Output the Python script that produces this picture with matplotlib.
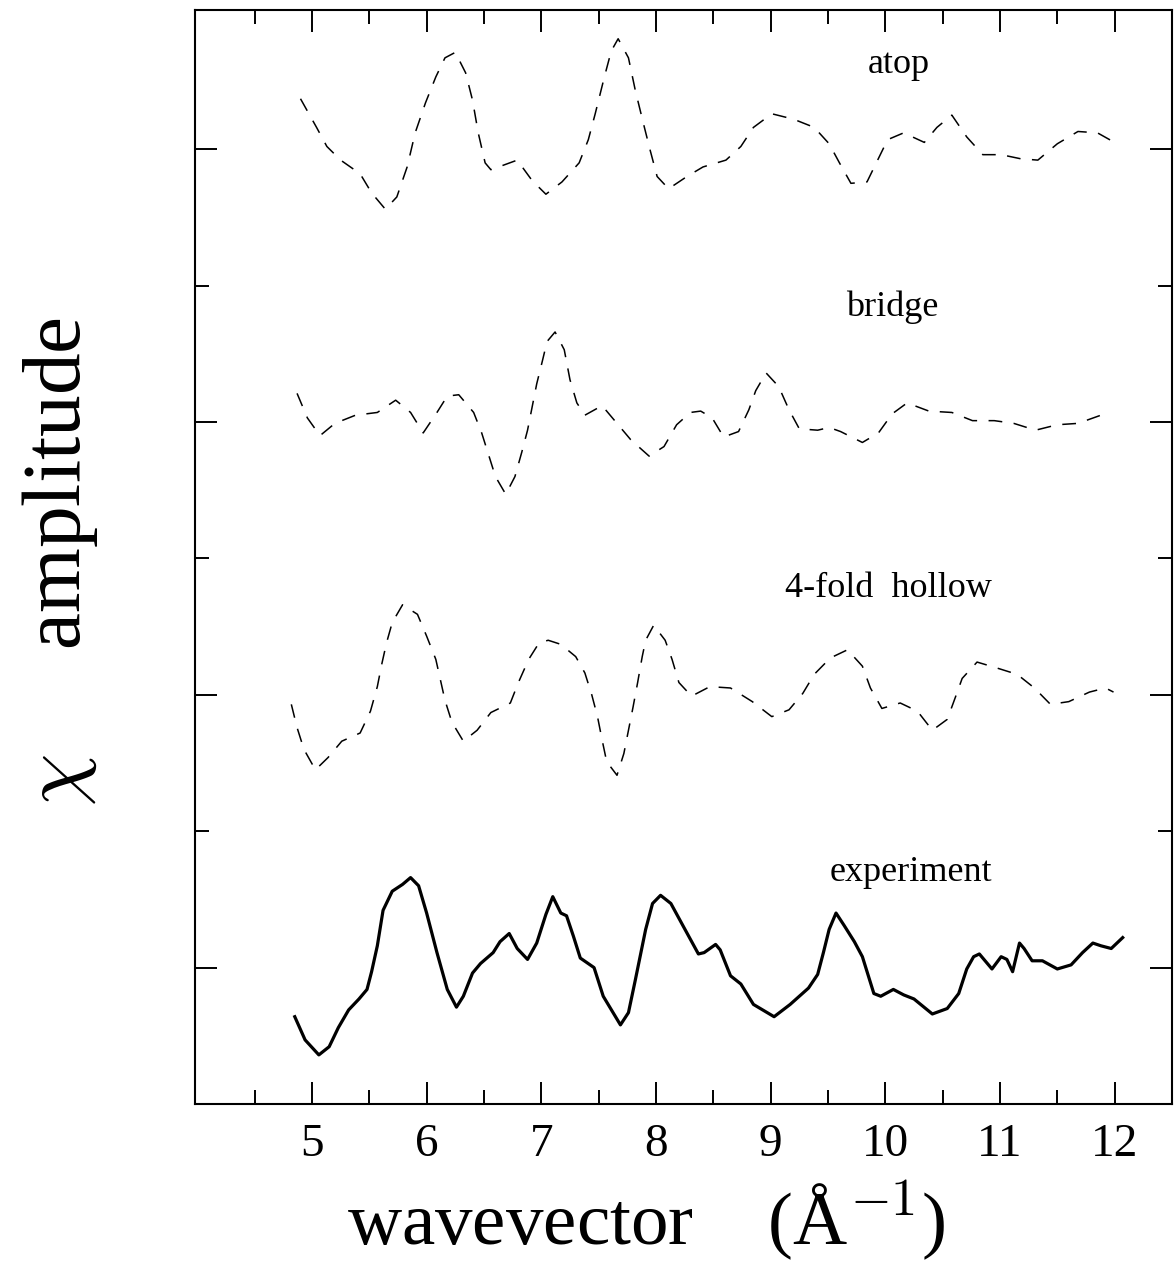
import numpy as np
import matplotlib.pyplot as plt
from matplotlib.ticker import FixedLocator

# chi(k) curves (values relative to each curve's baseline)
atop_k = [4.90, 5.04, 5.13, 5.25, 5.42, 5.52, 5.64, 5.74, 5.83, 5.90, 5.99, 6.08, 6.16, 6.25, 6.34,
          6.40, 6.45, 6.51, 6.56, 6.66, 6.79, 6.92, 7.04, 7.18, 7.33, 7.41, 7.47, 7.55, 7.61, 7.67,
          7.76, 7.82, 7.89, 7.95, 8.01, 8.11, 8.27, 8.41, 8.61, 8.74, 8.85, 9.01, 9.20, 9.38, 9.51,
          9.60, 9.70, 9.84, 10.02, 10.16, 10.34, 10.45, 10.58, 10.71, 10.85, 11.01, 11.18, 11.33,
          11.50, 11.68, 11.85, 12.02]
atop_chi = [0.37, 0.16, 0.02, -0.08, -0.18, -0.32, -0.44, -0.35, -0.13, 0.12, 0.34, 0.53, 0.67, 0.71,
            0.56, 0.36, 0.12, -0.10, -0.15, -0.12, -0.08, -0.23, -0.33, -0.24, -0.10, 0.07, 0.26, 0.53,
            0.72, 0.81, 0.67, 0.43, 0.19, -0.01, -0.20, -0.29, -0.20, -0.13, -0.08, 0.02, 0.16, 0.26,
            0.22, 0.16, 0.04, -0.10, -0.25, -0.24, 0.07, 0.12, 0.05, 0.16, 0.25, 0.09, -0.04, -0.04,
            -0.07, -0.08, 0.04, 0.13, 0.12, 0.04]

bridge_k = [4.87, 4.96, 5.07, 5.20, 5.38, 5.57, 5.73, 5.86, 5.97, 6.09, 6.18, 6.28, 6.41, 6.48, 6.54,
            6.60, 6.69, 6.77, 6.83, 6.88, 6.92, 6.96, 7.01, 7.05, 7.12, 7.20, 7.25, 7.31, 7.38, 7.53,
            7.66, 7.78, 7.94, 8.07, 8.18, 8.30, 8.39, 8.49, 8.59, 8.72, 8.81, 8.87, 8.96, 9.07, 9.16,
            9.25, 9.41, 9.51, 9.61, 9.80, 9.94, 10.06, 10.19, 10.38, 10.58, 10.76, 10.95, 11.12,
            11.31, 11.50, 11.68, 11.88]
bridge_chi = [0.21, 0.03, -0.10, -0.01, 0.05, 0.07, 0.16, 0.07, -0.08, 0.07, 0.19, 0.20, 0.07, -0.08,
              -0.24, -0.40, -0.53, -0.40, -0.22, -0.06, 0.11, 0.28, 0.45, 0.59, 0.66, 0.53, 0.31, 0.14,
              0.05, 0.12, -0.01, -0.13, -0.25, -0.18, -0.02, 0.07, 0.08, 0.03, -0.11, -0.07, 0.09,
              0.23, 0.36, 0.26, 0.09, -0.05, -0.06, -0.04, -0.07, -0.15, -0.08, 0.06, 0.14, 0.08,
              0.07, 0.01, 0.01, -0.01, -0.06, -0.02, -0.01, 0.05]

hollow_k = [4.82, 4.87, 4.93, 5.03, 5.14, 5.26, 5.42, 5.51, 5.57, 5.61, 5.65, 5.70, 5.79, 5.92, 6.00,
            6.08, 6.12, 6.16, 6.22, 6.32, 6.44, 6.56, 6.73, 6.80, 6.89, 6.98, 7.06, 7.17, 7.30, 7.38,
            7.44, 7.49, 7.53, 7.57, 7.66, 7.72, 7.76, 7.80, 7.84, 7.88, 7.91, 7.98, 8.08, 8.14, 8.20,
            8.31, 8.47, 8.65, 8.84, 9.01, 9.16, 9.28, 9.38, 9.52, 9.67, 9.80, 9.87, 9.97, 10.13,
            10.28, 10.41, 10.54, 10.61, 10.67, 10.80, 10.96, 11.15, 11.30, 11.44, 11.60, 11.78,
            11.92, 11.99]
hollow_chi = [-0.07, -0.24, -0.40, -0.55, -0.46, -0.34, -0.28, -0.12, 0.06, 0.23, 0.38, 0.53, 0.66,
              0.59, 0.43, 0.26, 0.11, -0.04, -0.20, -0.34, -0.26, -0.13, -0.06, 0.09, 0.26, 0.38,
              0.40, 0.37, 0.28, 0.16, 0.00, -0.16, -0.33, -0.49, -0.59, -0.43, -0.26, -0.09, 0.09,
              0.28, 0.40, 0.51, 0.40, 0.26, 0.09, -0.01, 0.06, 0.05, -0.05, -0.16, -0.11, 0.01, 0.15,
              0.27, 0.33, 0.21, 0.05, -0.10, -0.06, -0.12, -0.26, -0.18, -0.02, 0.12, 0.24, 0.20,
              0.15, 0.05, -0.07, -0.05, 0.02, 0.05, 0.02]

exp_k = [4.85, 4.94, 5.06, 5.15, 5.23, 5.32, 5.41, 5.48, 5.52, 5.57, 5.62, 5.70, 5.79, 5.86, 5.93,
         6.00, 6.09, 6.18, 6.26, 6.32, 6.40, 6.47, 6.58, 6.64, 6.72, 6.79, 6.88, 6.96, 7.04, 7.10,
         7.17, 7.22, 7.28, 7.34, 7.46, 7.54, 7.69, 7.76, 7.82, 7.91, 7.97, 8.04, 8.13, 8.24, 8.37,
         8.42, 8.52, 8.56, 8.65, 8.74, 8.85, 9.03, 9.17, 9.33, 9.41, 9.46, 9.51, 9.57, 9.64, 9.73,
         9.80, 9.90, 9.96, 10.07, 10.16, 10.25, 10.41, 10.54, 10.64, 10.71, 10.77, 10.82, 10.93,
         11.01, 11.06, 11.11, 11.17, 11.21, 11.28, 11.37, 11.50, 11.62, 11.72, 11.81, 11.88, 11.97,
         12.07]
exp_chi = [-0.36, -0.53, -0.64, -0.58, -0.44, -0.31, -0.23, -0.16, -0.03, 0.16, 0.42, 0.56, 0.61, 0.66,
           0.60, 0.40, 0.11, -0.16, -0.29, -0.21, -0.04, 0.03, 0.11, 0.19, 0.25, 0.14, 0.06, 0.18,
           0.39, 0.52, 0.40, 0.38, 0.23, 0.07, 0.00, -0.21, -0.42, -0.33, -0.09, 0.28, 0.47, 0.53,
           0.47, 0.30, 0.10, 0.11, 0.17, 0.13, -0.06, -0.12, -0.27, -0.36, -0.27, -0.15, -0.05, 0.11,
           0.28, 0.40, 0.31, 0.19, 0.08, -0.19, -0.21, -0.16, -0.20, -0.23, -0.34, -0.30, -0.19,
           -0.01, 0.08, 0.10, -0.01, 0.08, 0.06, -0.03, 0.18, 0.14, 0.05, 0.05, -0.01, 0.02, 0.11,
           0.18, 0.16, 0.14, 0.22]

curve_names = ['atop', 'bridge', '4-fold  hollow', 'experiment']
k_ticks = [5, 6, 7, 8, 9, 10, 11, 12]

serif = 'Liberation Serif'
plt.rcParams['mathtext.fontset'] = 'cm'

fig = plt.figure(figsize=(11.74, 12.61), dpi=100)
ax = fig.add_axes([0.1661, 0.1245, 0.8322, 0.8675])

# stacked curves, each shifted up by 2 units
dash = (0, (9, 7.5))
ax.plot(atop_k, np.array(atop_chi) + 6, color='black', lw=1.1, linestyle=dash)
ax.plot(bridge_k, np.array(bridge_chi) + 4, color='black', lw=1.1, linestyle=dash)
ax.plot(hollow_k, np.array(hollow_chi) + 2, color='black', lw=1.1, linestyle=dash)
ax.plot(exp_k, np.array(exp_chi), color='black', lw=2.3, solid_joinstyle='round')

# curve labels
ax.text(10.12, 6.62, curve_names[0], family=serif, fontsize=26, ha='center', va='center')
ax.text(10.06, 4.84, curve_names[1], family=serif, fontsize=26, ha='center', va='center')
ax.text(10.03, 2.78, curve_names[2], family=serif, fontsize=26, ha='center', va='center')
ax.text(10.22, 0.70, curve_names[3], family=serif, fontsize=26, ha='center', va='center')

ax.set_xlim(3.98, 12.5)
ax.set_ylim(-1.0, 7.02)
ax.set_xticks(k_ticks)
ax.set_xticklabels([str(k) for k in k_ticks], family=serif, fontsize=34)
ax.xaxis.set_minor_locator(FixedLocator(np.arange(4.5, 12.0, 1.0)))
ax.set_yticks([0, 2, 4, 6])
ax.set_yticklabels([])
ax.yaxis.set_minor_locator(FixedLocator([1, 3, 5]))

ax.tick_params(which='both', direction='in', top=True, right=True, width=1.4)
ax.tick_params(which='major', length=16, pad=14)
ax.tick_params(which='minor', length=10)
for sp in ax.spines.values():
    sp.set_linewidth(1.5)

ax.set_xlabel('wavevector    (Å$^{-1}$)', family=serif, fontsize=54, va='baseline')
ax.xaxis.set_label_coords(0.4616, -0.1295)
ax.set_ylabel(r'$\chi$     amplitude', family=serif, fontsize=60, va='center', ha='center')
ax.yaxis.set_label_coords(-0.138, 0.496)

fig.savefig('out.png', dpi=100)
